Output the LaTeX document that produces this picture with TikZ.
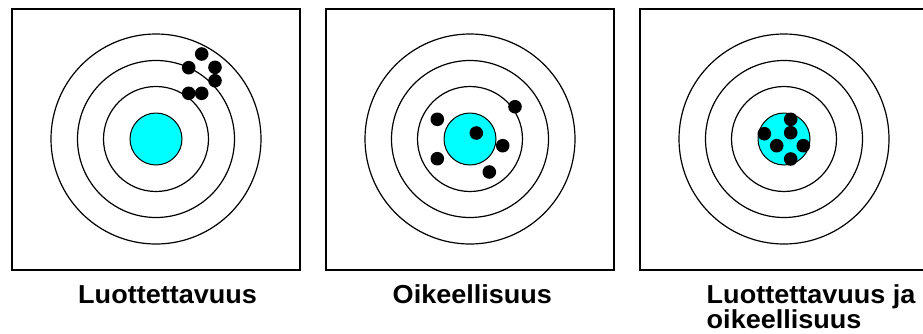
\documentclass[tikz,border=0pt]{standalone}
\usepackage{fontspec}
\setmainfont{Liberation Sans}
\definecolor{bullcyan}{RGB}{0,255,255}
\begin{document}
\begin{tikzpicture}[x=1pt,y=-1pt,
  panel/.style={draw=black,line width=1.6pt,fill=white},
  ring/.style={draw=black,line width=1.2pt},
  bull/.style={draw=black,line width=1.0pt,fill=bullcyan},
  hit/.style={fill=black},
  lbl/.style={font=\fontsize{26}{26.5}\selectfont\bfseries,inner sep=0pt,xscale=1.04,transform shape}]
\useasboundingbox (0,0) rectangle (923,333);
\clip (0,0) rectangle (923,333);
\fill[white] (0,0) rectangle (923,333);
\foreach \bx/\cx in {12/156,326/470,640/784}{
  \draw[panel] (\bx,9) rectangle ++(288,261);
  \draw[ring] (\cx,139) circle[radius=105];
  \draw[ring] (\cx,139) circle[radius=78.5];
  \draw[ring] (\cx,139) circle[radius=52.5];
  \draw[bull] (\cx,139) circle[radius=26];
}
% panel 1 hits
\foreach \p in {(201.7,54),(188.7,67.7),(215,67.3),(215,80.7),(188.7,93.3),(201.7,93.3)}
  \fill[hit] \p circle[radius=6.8];
% panel 2 hits
\foreach \p in {(515,106.7),(437.3,119.3),(476.3,133),(502.7,145.7),(437.3,158.7),(489.3,172)}
  \fill[hit] \p circle[radius=6.8];
% panel 3 hits
\foreach \p in {(790.7,119.3),(790.7,132.7),(764.3,133.7),(776.7,145.7),(803.3,145.7),(790.7,159)}
  \fill[hit] \p circle[radius=6.8];
\node[lbl,anchor=base west] (l1) at (78,303) {Luottettavuus};
\node[lbl,anchor=base west] (l2) at (392.5,303) {Oikeellisuus};
\node[lbl,anchor=base west] (l3) at (706.5,303) {Luottettavuus ja};
\node[lbl,anchor=base west] (l4) at (706.5,328) {oikeellisuus};
\end{tikzpicture}
\end{document}
